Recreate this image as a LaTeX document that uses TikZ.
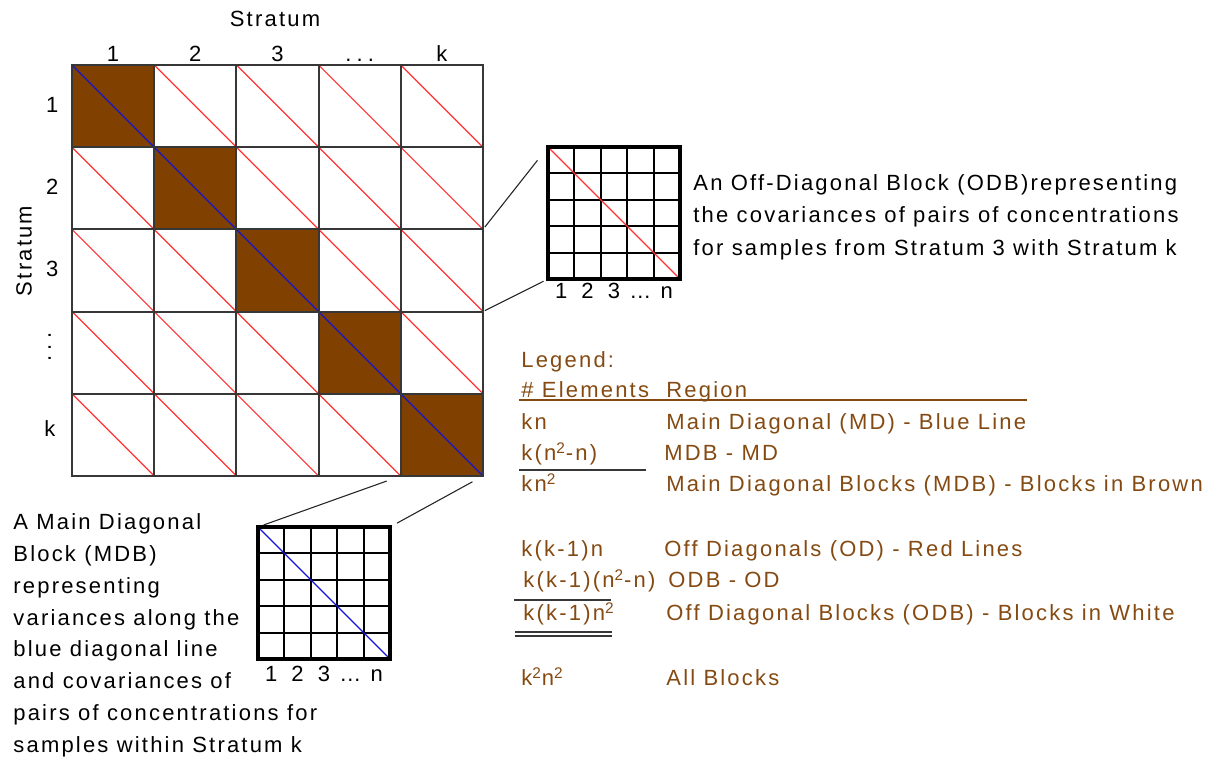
\documentclass[tikz,border=0pt]{standalone}
\usepackage{fontspec}
\setmainfont{Liberation Sans}[LetterSpace=10]
\definecolor{blockbrown}{RGB}{128,64,0}
\definecolor{legendbrown}{RGB}{133,74,18}
\definecolor{gridgray}{RGB}{55,55,55}
\definecolor{diagred}{RGB}{255,50,50}
\definecolor{diagblue}{RGB}{20,20,210}

\tikzset{
  gridline/.style={gridgray, line width=1pt},
  cellline/.style={black, line width=1pt},
  boxline/.style={black, line width=1.6pt},
  reddiag/.style={diagred, line width=0.6pt},
  bluediag/.style={diagblue, line width=0.6pt},
  txt/.style={inner sep=0pt, font=\fontsize{11}{16}\selectfont},
  legtxt/.style={txt, text=legendbrown, anchor=base west},
  zoomline/.style={black!85, line width=0.55pt},
  sumrule/.style={gridgray, line width=0.8pt}
}

\begin{document}
\begin{tikzpicture}[x=0.5pt, y=-0.5pt]
\useasboundingbox (0,0) rectangle (1223,759);

% main matrix: k x k blocks
\begin{scope}[shift={(72,65)}, x=41.1pt, y=-41.1pt]
  \foreach \i in {0,...,4}
    \fill[blockbrown] (\i,\i) rectangle (\i+1,\i+1);
  \foreach \i in {0,...,4}
    \foreach \j in {0,...,4}{
      \ifnum\i=\j\relax\else
        \draw[reddiag] (\j,\i) -- (\j+1,\i+1);
      \fi
    }
  \draw[bluediag] (0,0) -- (5,5);
  \foreach \k in {1,...,4}{
    \draw[gridline] (\k,0) -- (\k,5);
    \draw[gridline] (0,\k) -- (5,\k);
  }
  \draw[gridline] (0,0) rectangle (5,5);
  % headers
  \foreach \t [count=\c] in {1,2,3,{.\hspace{2.6pt}.\hspace{2.6pt}.},k}
    \node[txt, anchor=base] (colhead\c) at (\c-0.5,-0.04) {\t};
  \foreach \t [count=\r] in {1,2,3}
    \node[txt] (rowhead\r) at (-0.24,\r-0.52) {\t};
  \node[txt, rotate=90] (rowhead4) at (-0.27,3.43) {.\hspace{2.6pt}.\hspace{2.6pt}.};
  \node[txt] (rowhead5) at (-0.27,4.42) {k};
  % corners of the zoomed blocks
  \coordinate (odbsrc-a) at (5,2);
  \coordinate (odbsrc-b) at (5,3);
  \coordinate (mdbsrc-a) at (4,5);
  \coordinate (mdbsrc-b) at (5,5);
\end{scope}
\node[txt, anchor=base] (coltitle) at (275,27) {Stratum};
\node[txt, rotate=90] (rowtitle) at (24,251) {Stratum};

% off-diagonal block
\begin{scope}[shift={(548,147)}, x=13.2pt, y=-13.2pt]
  \foreach \k in {1,...,4}{
    \draw[cellline] (\k,0) -- (\k,5);
    \draw[cellline] (0,\k) -- (5,\k);
  }
  \draw[reddiag] (0,0) -- (5,5);
  \draw[boxline] (0,0) rectangle (5,5);
  \foreach \t [count=\c] in {1,2,3,\ldots,n}
    \node[txt, anchor=base] (odbidx\c) at (\c-0.5,5.72) {\t};
  \coordinate (odb-nw) at (0,0);
  \coordinate (odb-sw) at (0,5);
\end{scope}

% main diagonal block
\begin{scope}[shift={(258,527)}, x=13.2pt, y=-13.2pt]
  \foreach \k in {1,...,4}{
    \draw[cellline] (\k,0) -- (\k,5);
    \draw[cellline] (0,\k) -- (5,\k);
  }
  \draw[bluediag] (0,0) -- (5,5);
  \draw[boxline] (0,0) rectangle (5,5);
  \foreach \t [count=\c] in {1,2,3,\ldots,n}
    \node[txt, anchor=base] (mdbidx\c) at (\c-0.5,5.87) {\t};
  \coordinate (mdb-nw) at (0,0);
  \coordinate (mdb-ne) at (5,0);
\end{scope}

\draw[zoomline, shorten <=1.5pt, shorten >=8.5pt] (odbsrc-a) -- (odb-nw);
\draw[zoomline, shorten <=1pt, shorten >=2.5pt] (odbsrc-b) -- (odb-sw);
\draw[zoomline, shorten <=7.5pt, shorten >=3pt] (mdbsrc-a) -- (mdb-nw);
\draw[zoomline, shorten <=6pt, shorten >=4pt] (mdbsrc-b) -- (mdb-ne);

\node[txt, anchor=north west, align=left, font=\fontsize{11}{16.25}\selectfont] (odbnote) at (693,174)
  {An Off-Diagonal Block (ODB)representing\\the covariances of pairs of concentrations\\for samples from Stratum 3 with Stratum k};
\node[txt, anchor=north west, align=left, font=\fontsize{11}{15.95}\selectfont] (mdbnote) at (13,513)
  {A Main Diagonal\\Block (MDB)\\representing\\variances along the\\blue diagonal line\\and covariances of\\pairs of concentrations for\\samples within Stratum k};

% legend
\node[legtxt] (legtitle) at (521,368) {Legend:};
\node[legtxt] (leghead-num) at (521,398) {\# Elements};
\node[legtxt] (leghead-reg) at (666,398) {Region};
\draw[legendbrown, line width=0.8pt] (519,400) -- (1027,400);
\node[legtxt] (leg-md-n) at (521,430) {kn};
\node[legtxt] (leg-md-d) at (666,430) {Main Diagonal (MD) - Blue Line};
\node[legtxt] (leg-mdbmd-n) at (521,461) {k(n\textsuperscript{2}-n)};
\node[legtxt] (leg-mdbmd-d) at (664,461) {MDB - MD};
\draw[sumrule] (519,470) -- (646,470);
\node[legtxt] (leg-mdb-n) at (521,492) {kn\textsuperscript{2}};
\node[legtxt] (leg-mdb-d) at (666,492) {Main Diagonal Blocks (MDB) - Blocks in Brown};
\node[legtxt] (leg-od-n) at (521,557) {k(k-1)n};
\node[legtxt] (leg-od-d) at (664,557) {Off Diagonals (OD) - Red Lines};
\node[legtxt] (leg-odbod-n) at (523,588) {k(k-1)(n\textsuperscript{2}-n)};
\node[legtxt] (leg-odbod-d) at (668,588) {ODB - OD};
\draw[sumrule] (514,600) -- (611,600);
\node[legtxt] (leg-odb-n) at (523,621) {k(k-1)n\textsuperscript{2}};
\node[legtxt] (leg-odb-d) at (666,621) {Off Diagonal Blocks (ODB) - Blocks in White};
\draw[sumrule] (515,632) -- (612,632);
\draw[sumrule] (515,636) -- (612,636);
\node[legtxt] (leg-all-n) at (521,686) {k\textsuperscript{2}n\textsuperscript{2}};
\node[legtxt] (leg-all-d) at (666,686) {All Blocks};
\end{tikzpicture}
\end{document}
